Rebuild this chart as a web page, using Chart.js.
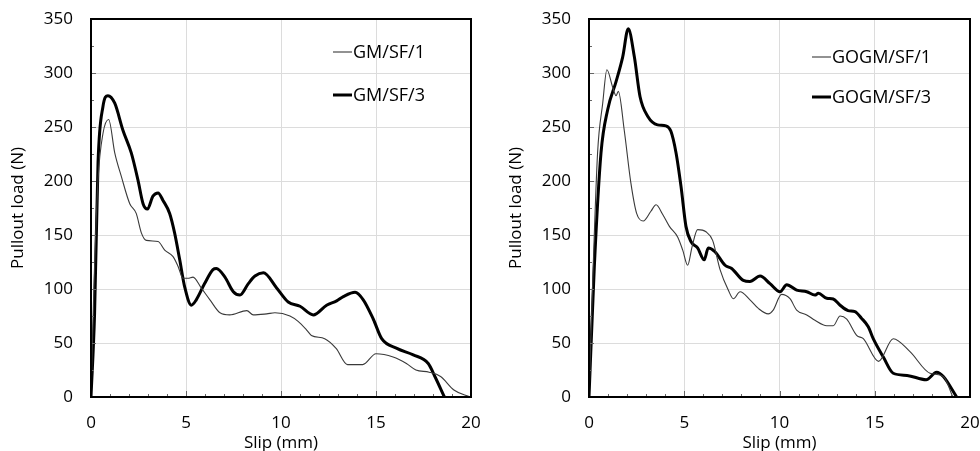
<!DOCTYPE html>
<html>
<head>
<meta charset="utf-8">
<script src="https://cdn.jsdelivr.net/npm/chart.js@4.4.1/dist/chart.umd.min.js"></script>
<style>
  body { margin: 0; background: #fff; }
  #left-chart { position: absolute; left: 0; top: 0; }
  #right-chart { position: absolute; left: 498px; top: 0; }
</style>
</head>
<body>
<canvas id="left-chart" width="490" height="451"></canvas>
<canvas id="right-chart" width="482" height="451"></canvas>
<script>
// slip (mm) / load (N)
const gm1X = [0, 0.15, 0.37, 0.63, 0.93, 1.25, 1.6, 2.04, 2.38, 2.65, 2.91, 3.53, 3.88, 4.32, 4.58, 4.84, 5.1, 5.37, 5.8, 6.26, 6.79, 7.3, 8.2, 8.54, 9.25, 9.68, 10.47, 10.9, 11.35, 11.6, 12.3, 12.9, 13.5, 14.3, 15.0, 15.9, 16.6, 17.1, 17.8, 18.4, 19.1, 19.95];
const gm1Y = [0, 100, 201, 244, 257, 226, 204, 179, 170, 152, 145, 144, 136, 130, 121, 110, 110, 111, 101, 90, 78, 76, 80, 76, 77, 78, 75, 70, 62, 57, 54, 45, 30, 30, 40, 37, 31, 25, 23, 19, 6.5, 0];

const gm3X = [0, 0.19, 0.37, 0.63, 0.89, 1.25, 1.68, 2.12, 2.47, 2.74, 2.97, 3.26, 3.53, 3.79, 4.14, 4.4, 4.67, 4.93, 5.28, 5.54, 5.98, 6.42, 6.6, 7.05, 7.49, 7.84, 8.28, 8.63, 9.07, 9.77, 10.38, 11.0, 11.7, 12.4, 12.93, 13.28, 13.9, 14.33, 14.86, 15.3, 16.1, 16.96, 17.75, 18.1, 18.6];
const gm3Y = [0, 78, 217, 269, 279, 272, 247, 226, 201, 179, 174, 186, 189, 182, 170, 152, 127, 102, 85, 90, 105, 118, 119, 111, 97.5, 94.4, 105, 112, 115, 101, 88, 84, 76, 85, 89, 93, 97, 90, 72, 54, 45, 39, 31, 19, 0];

const gogm1X = [0, 0.2, 0.45, 0.72, 0.94, 1.24, 1.42, 1.54, 1.85, 2.2, 2.5, 2.85, 3.25, 3.52, 3.87, 4.22, 4.66, 4.92, 5.18, 5.41, 5.7, 6.14, 6.49, 6.88, 7.31, 7.58, 7.93, 8.45, 8.89, 9.41, 9.67, 10.11, 10.55, 10.9, 11.43, 11.86, 12.48, 12.82, 13.18, 13.53, 14.05, 14.4, 15.2, 15.97, 16.85, 17.9, 18.6, 19.1];
const gogm1Y = [0, 110, 226, 272, 303, 287, 279, 283, 247, 198, 170, 163, 172, 178, 169, 158, 148, 136, 122, 139, 155, 153, 145, 118, 99, 91, 97.5, 90, 82, 77, 80.5, 95, 91, 80.5, 76, 71, 66, 66, 75, 72, 57, 54, 33, 54, 42, 22, 19, 0];

const gogm3X = [0, 0.28, 0.63, 0.98, 1.42, 1.77, 2.06, 2.38, 2.68, 3.08, 3.6, 4.04, 4.3, 4.57, 4.83, 5.09, 5.35, 5.7, 6.05, 6.26, 6.61, 7.14, 7.49, 8.1, 8.45, 8.98, 9.5, 10.03, 10.38, 10.9, 11.43, 11.86, 12.04, 12.48, 12.82, 13.18, 13.6, 13.96, 14.3, 14.66, 14.92, 15.45, 15.97, 16.7, 17.7, 18.25, 18.6, 19.3];
const gogm3Y = [0, 121, 226, 266, 292, 315, 341, 315, 278, 260, 252, 251, 246, 226, 195, 158, 144, 138, 127, 138, 134.5, 122, 119, 108, 107, 112, 105, 97.5, 104, 99, 97.5, 94.4, 96, 91.4, 90.7, 85, 80, 79, 73, 65, 54, 37, 22, 20, 16, 23, 19, 0];

const xTicks = [0, 5, 10, 15, 20];
const yTicks = [0, 50, 100, 150, 200, 250, 300, 350];

const FONT = '"Open Sans", "DejaVu Sans", sans-serif';

function pts(xs, ys) {
  return xs.map((x, i) => ({ x: x, y: ys[i] }));
}

function series(label, xs, ys, thick) {
  return {
    label: label,
    data: pts(xs, ys),
    showLine: true,
    borderColor: thick ? '#000' : '#3a3a3a',
    backgroundColor: thick ? '#000' : '#3a3a3a',
    borderWidth: thick ? 3 : 1.1,
    pointRadius: 0,
    cubicInterpolationMode: 'monotone',
  };
}

// frame, little inside ticks and the legend drawn inside the plot
const framePlugin = {
  id: 'frame',
  afterDraw(chart, args, opts) {
    const { ctx, chartArea: a, scales: { x, y } } = chart;
    ctx.save();
    ctx.strokeStyle = '#666';
    ctx.lineWidth = 1;
    ctx.beginPath();
    for (let v = 1; v < 20; v++) {
      const px = Math.round(x.getPixelForValue(v)) + 0.5;
      const len = v % 5 === 0 ? 6 : 3;
      ctx.moveTo(px, a.bottom);
      ctx.lineTo(px, a.bottom - len);
    }
    for (let v = 25; v < 350; v += 25) {
      const py = Math.round(y.getPixelForValue(v)) + 0.5;
      const len = v % 50 === 0 ? 5 : 3;
      ctx.moveTo(a.left, py);
      ctx.lineTo(a.left + len, py);
    }
    ctx.stroke();

    ctx.strokeStyle = '#000';
    ctx.lineWidth = 2;
    ctx.strokeRect(a.left, a.top, a.width, a.height);

    ctx.font = '18px ' + FONT;
    ctx.fillStyle = '#000';
    ctx.textBaseline = 'middle';
    chart.data.datasets.forEach((ds, i) => {
      const lx = a.left + opts.x;
      const ly = a.top + opts.y[i];
      ctx.strokeStyle = ds.borderColor;
      ctx.lineWidth = ds.borderWidth;
      ctx.beginPath();
      ctx.moveTo(lx, ly);
      ctx.lineTo(lx + 19, ly);
      ctx.stroke();
      ctx.fillText(ds.label, lx + 20, ly + 1);
    });
    ctx.restore();
  }
};

function makeConfig(datasets, legendX, legendY, rightPad) {
  return {
    type: 'scatter',
    data: { datasets: datasets },
    plugins: [framePlugin],
    options: {
      responsive: false,
      animation: false,
      layout: { padding: { top: 19, right: rightPad, left: 0, bottom: 0 } },
      plugins: {
        legend: { display: false },
        tooltip: { enabled: false },
        frame: { x: legendX, y: legendY },
      },
      scales: {
        x: {
          type: 'linear',
          min: 0,
          max: 20,
          afterBuildTicks: s => { s.ticks = xTicks.map(v => ({ value: v })); },
          ticks: { padding: 16, color: '#000', font: { family: FONT, size: 17 } },
          grid: { color: '#dcdcdc', drawTicks: false },
          border: { display: false },
          title: {
            display: true,
            text: 'Slip (mm)',
            color: '#000',
            font: { family: FONT, size: 17 },
            padding: { top: 0, bottom: -2 },
          },
          afterFit: s => {
            s.height = 54;
            s.paddingLeft = 0;
            s.paddingRight = 0;
          },
        },
        y: {
          type: 'linear',
          min: 0,
          max: 350,
          afterBuildTicks: s => { s.ticks = yTicks.map(v => ({ value: v })); },
          ticks: { padding: 18, color: '#000', font: { family: FONT, size: 17 } },
          grid: { color: '#dcdcdc', drawTicks: false },
          border: { display: false },
          title: {
            display: true,
            text: 'Pullout load (N)',
            color: '#000',
            font: { family: FONT, size: 17 },
            padding: { top: 8, bottom: 0 },
          },
          afterFit: s => {
            s.width = 91;
            s.paddingTop = 0;
            s.paddingBottom = 0;
          },
        },
      },
    },
  };
}

const leftChart = new Chart(
  document.getElementById('left-chart'),
  makeConfig([
    series('GM/SF/1', gm1X, gm1Y, false),
    series('GM/SF/3', gm3X, gm3Y, true),
  ], 242, [33, 76], 19)
);

const rightChart = new Chart(
  document.getElementById('right-chart'),
  makeConfig([
    series('GOGM/SF/1', gogm1X, gogm1Y, false),
    series('GOGM/SF/3', gogm3X, gogm3Y, true),
  ], 223, [38, 78], 10)
);
</script>
</body>
</html>
